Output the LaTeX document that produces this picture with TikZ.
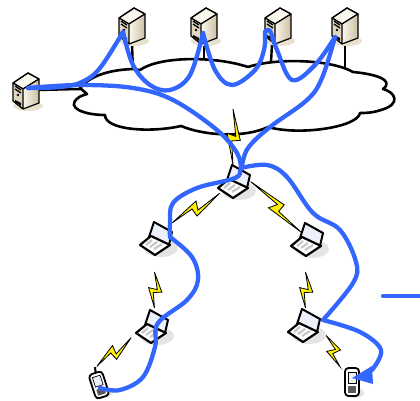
\documentclass[tikz,border=0pt]{standalone}
\definecolor{netblue}{RGB}{51,102,255}
\definecolor{srvshadow}{RGB}{232,226,205}
\definecolor{srvtan}{RGB}{205,190,160}
\definecolor{srvlight}{RGB}{250,247,238}
\definecolor{srvside}{RGB}{225,215,190}
\definecolor{boltyellow}{RGB}{255,240,0}
\definecolor{softshadow}{RGB}{228,228,228}
\definecolor{scrn}{RGB}{235,240,250}
\tikzset{
  x=1pt,y=-1pt,
  cloudline/.style={draw=black,line width=2.6pt,fill=white,line join=round},
  stem/.style={draw=black,line width=2.4pt},
  net/.style={draw=netblue,line width=4.3pt,line cap=round,line join=round},
  server/.pic={
    \fill[srvshadow] (2,15) ellipse (15 and 5);
    \draw[black,line width=1.2pt,line join=round,fill=srvlight] (-13,-8)--(2,-18)--(13,-12)--(-3,-2)--cycle;
    \shade[left color=srvlight,right color=srvtan] (-3,-2)--(13,-12)--(13,12)--(-3,18)--cycle;
    \fill[srvside] (-13,-8)--(-3,-2)--(-3,18)--(-13,10)--cycle;
    \draw[black,line width=1.2pt,line join=round] (-13,-8)--(2,-18)--(13,-12)--(13,12)--(-3,18)--(-13,10)--cycle (-13,-8)--(-3,-2)--(13,-12) (-3,-2)--(-3,18);
    \draw[black,line width=1.3pt] (-11,-5)--(-5,-1) (-11,-2)--(-5,2);
    \fill[black] (-8,4) circle (1.3);
    \fill[black] (-11,9)--(-5,12)--(-5,15)--(-11,11)--cycle;
  },
  laptop/.pic={
    \fill[softshadow] (5,11) ellipse (17 and 9);
    \draw[black,line width=2pt,line join=round,fill=scrn] (-2,-15)--(16,-5)--(13,8)--(-7,0)--cycle;
    \draw[black,line width=2.2pt,line join=round,fill=white] (-16,8)--(-5,-1)--(14,8)--(-1,18)--cycle;
    \draw[gray!45,line width=2.2pt] (-10,8)--(-4,3) (-6,10)--(1,5) (-2,12)--(6,7);
  },
  bolt/.pic={
    \draw[black,line width=0.8pt,fill=boltyellow,line join=miter] (0,-28)--(7.3,3.4)--(-1.3,3.9)--(0,28)--(-5.9,-3.7)--(2.8,-0.6)--cycle;
  },
  phone/.pic={
    \fill[softshadow] (3,11) ellipse (9 and 5);
    \draw[black,line width=1.8pt,fill=white,rounded corners=3.5pt] (-7,-14) rectangle (7,14);
    \draw[black,line width=0.7pt,fill=scrn] (-4,-10) rectangle (4,1);
    \fill[black!65] (-4,4) rectangle (4,11);
  },
}
\begin{document}
\begin{tikzpicture}
\useasboundingbox (0,0) rectangle (420,401);
% anchor points
\coordinate (srvL) at (26,91);
\coordinate (srvA) at (132,26);
\coordinate (srvB) at (204,26);
\coordinate (srvC) at (278,26);
\coordinate (srvD) at (345,26);
\coordinate (lapTop) at (234,180);
\coordinate (lapL) at (156,237);
\coordinate (lapR) at (307,238);
\coordinate (lapLL) at (152,325);
\coordinate (lapLR) at (304,324);
\coordinate (phL) at (99,385);
\coordinate (phR) at (352,382);
% stems
\draw[stem] (132,44)--(133,70);
\draw[stem] (204,44)--(204,60);
\draw[stem] (272,44)--(271,63);
\draw[stem] (345,45)--(345,70);
\draw[stem] (38,90)--(82,89);
% cloud
\path[cloudline] (80,88) .. controls (88,78) and (105,70) .. (133,69)
 -- (140,70) .. controls (160,56) and (215,56) .. (248,67)
 .. controls (275,58) and (330,59) .. (353,72)
 .. controls (375,74) and (395,80) .. (383,89)
 .. controls (395,92) and (402,104) .. (381,110)
 .. controls (372,113) and (365,113) .. (360,113)
 .. controls (358,127) and (300,136) .. (268,127)
 .. controls (245,138) and (205,136) .. (181,126)
 .. controls (150,133) and (105,130) .. (105,115)
 .. controls (85,115) and (65,108) .. (78,98)
 .. controls (80,96) and (84,95) .. (87,94) -- cycle;
% servers
\foreach \c in {srvL,srvA,srvB,srvC,srvD} \path (\c) pic {server};
% radio links
\path (233,137) pic {bolt};
\path (196,208) pic[rotate=-58] {bolt};
\path (276,207) pic[rotate=45,yscale=1.28] {bolt};
\path (154.5,290) pic[yscale=0.64] {bolt};
\path (114,352) pic[rotate=-50,yscale=0.8] {bolt};
\path (305.5,290) pic[yscale=0.64] {bolt};
\path (333,351) pic[rotate=24,yscale=0.61] {bolt};
% devices
\foreach \c in {lapTop,lapL,lapR,lapLL,lapLR} \path (\c) pic {laptop};
\draw[black,line width=2pt] (95,367)--(96,376);
\path (phL) pic[rotate=18,yscale=0.9] {phone};
\path (phR) pic {phone};
% blue route
\coordinate (hL) at (28,88);
\coordinate (hA) at (123,32);
\coordinate (hB) at (203,33);
\coordinate (hC) at (265,32);
\coordinate (hD) at (335,37);
\coordinate (hT) at (241,168);
\coordinate (hLp) at (170,237);
\coordinate (hLq) at (323,320);
\coordinate (hEnd) at (100,388);
\coordinate (strayA) at (383,296);
\coordinate (strayB) at (420,296);
\draw[net] plot[smooth,tension=0.6] coordinates {(hL) (60,87) (82,82) (100,68) (hA)};
\draw[net] plot[smooth,tension=0.6] coordinates {(hA) (133,65) (150,85) (170,90) (190,75) (hB)};
\draw[net] plot[smooth,tension=0.6] coordinates {(hB) (215,70) (232,85) (255,70) (264,50) (hC)};
\draw[net] plot[smooth,tension=0.6] coordinates {(hC) (270,31) (277,50) (292,80) (315,65) (hD)};
\draw[net] plot[smooth,tension=0.6] coordinates {(hD) (322,78) (307,100) (270,127) (248,148) (hT) (235,178) (197,188) (173,203) (170,223) (hLp)};
\draw[net] plot[smooth,tension=0.6] coordinates {(hLp) (192,257) (198,280) (187,300) (158,323) (155,347) (143,377) (120,390) (hEnd)};
\draw[net] plot[smooth,tension=0.6] coordinates {(hL) (80,85) (133,88) (173,100) (217,130) (237,153) (hT)};
\draw[net] plot[smooth,tension=0.6] coordinates {(hT) (267,165) (287,177) (313,213) (340,230) (356,262) (353,283) (hLq)};
\draw[net] plot[smooth,tension=0.6] coordinates {(hLq) (360,332) (381,350) (372,370)};
\fill[netblue] (352,378)--(372,366)--(373,384)--cycle;
\draw[net] (strayA)--(strayB);
\end{tikzpicture}
\end{document}
